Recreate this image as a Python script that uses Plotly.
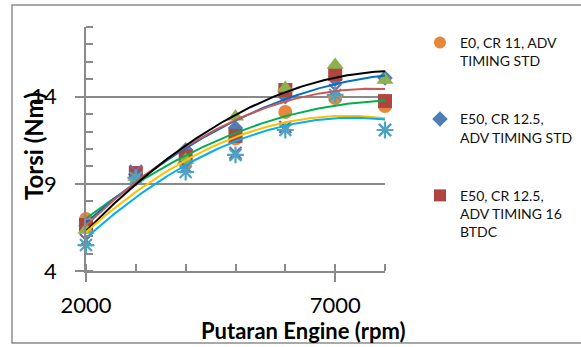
import numpy as np
import plotly.graph_objects as go

# ---- data ----
rpm = [2000, 3000, 4000, 5000, 6000, 7000, 8000]
e0_cr11_std = [6.98, 9.35, 10.25, 11.6, 13.12, 13.93, 13.47]
e50_cr125_std = [6.6, 9.55, 10.94, 12.2, 14.0, 15.0, 15.07]
e50_cr125_16btdc = [6.64, 9.62, 10.57, 11.75, 14.38, 15.3, 13.75]
series4 = [6.35, 9.4, 10.37, 12.85, 14.5, 15.82, 14.96]
series5 = [5.78, 9.74, 9.97, 10.77, 12.26, 14.38, 12.09]
series6 = [5.49, 9.34, 9.68, 10.66, 12.09, 14.1, 12.09]

names = ["E0, CR 11, ADV<br>TIMING STD",
         "E50, CR 12.5,<br>ADV TIMING STD",
         "E50, CR 12.5,<br>ADV TIMING 16<br>BTDC",
         "Series4", "Series5", "Series6"]
values = [e0_cr11_std, e50_cr125_std, e50_cr125_16btdc, series4, series5, series6]
marker_colors = ["#E8873A", "#4F7DB8", "#AE4541", "#8EB04D", "#8064A2", "#4BA5C2"]
symbols = ["circle", "diamond", "square", "triangle-up", "x-thin-open", "asterisk-open"]
sizes = [14, 12, 14, 15, 12, 14]
trend_colors = ["#00B050", "#0070C0", "#C9585A", "#000000", "#FFC000", "#00B0F0"]

fig = go.Figure()

xs = np.linspace(rpm[0], rpm[-1], 120)

# markers
for i, (nm, v) in enumerate(zip(names, values)):
    mk = dict(color=marker_colors[i], symbol=symbols[i], size=sizes[i])
    if symbols[i].endswith("open"):
        mk["line"] = dict(color=marker_colors[i], width=2.2)
    fig.add_trace(go.Scatter(
        x=rpm, y=v, mode="markers", name=nm, marker=mk,
        showlegend=i < 3, legendgroup=f"g{i}", cliponaxis=False))

# polynomial (order 2) trendlines, fitted to the data
for i, v in enumerate(values):
    c = np.polyfit(rpm, v, 2)
    fig.add_trace(go.Scatter(
        x=xs, y=np.polyval(c, xs), mode="lines", showlegend=False,
        line=dict(color=trend_colors[i], width=2), hoverinfo="skip",
        cliponaxis=False))

axis_gray = "#8A8A8A"
fig.update_layout(
    width=581, height=347,
    margin=dict(l=86, r=196, t=27, b=76, autoexpand=False),
    paper_bgcolor="white", plot_bgcolor="white",
    font=dict(family="Lato", color="#000000"),
    showlegend=True,
    legend=dict(x=1.117, y=1.0, xanchor="left", yanchor="top",
                font=dict(family="Lato", size=14, color="#111"),
                valign="top", tracegroupgap=37, bgcolor="rgba(0,0,0,0)",
                maxheight=340, itemsizing="constant"),
    xaxis=dict(range=[2000, 8000], tick0=2000, dtick=5000, automargin=False,
               showgrid=False, zeroline=False,
               showline=True, linecolor=axis_gray, linewidth=1.5,
               ticks="outside", ticklen=9, tickcolor=axis_gray, tickwidth=1.5,
               tickfont=dict(family="Lato", size=22, color="#000"),
               ticklabelstandoff=5,
               minor=dict(ticks="inside", dtick=1000, tick0=2000, ticklen=7,
                          tickcolor=axis_gray, tickwidth=1.5, showgrid=False)),
    yaxis=dict(range=[4, 18], tick0=4, dtick=5, automargin=False,
               showgrid=True, gridcolor=axis_gray, gridwidth=1.5,
               zeroline=False,
               showline=True, linecolor=axis_gray, linewidth=1.5,
               ticks="outside", ticklen=9, tickcolor=axis_gray, tickwidth=1.5,
               tickfont=dict(family="Lato", size=22, color="#000"),
               ticklabelstandoff=14,
               minor=dict(ticks="inside", dtick=1, tick0=4, ticklen=7,
                          tickcolor=axis_gray, tickwidth=1.5, showgrid=False)),
    shapes=[dict(type="rect", xref="paper", yref="paper",
                 x0=-0.2475, x1=1.70, y0=-0.295, y1=1.09,
                 line=dict(color="#8C8C8C", width=1.5), layer="below")],
    annotations=[
        dict(text="<b>Putaran Engine (rpm)</b>", xref="paper", yref="paper",
             x=(303 - 86) / 299, y=(271 - 330) / 244, showarrow=False,
             xanchor="center", yanchor="middle",
             font=dict(family="Lato", size=22, color="#000")),
        dict(text="<b>Torsi (Nm)</b>", xref="paper", yref="paper",
             x=(33 - 86) / 299, y=(271 - 146) / 244, showarrow=False,
             textangle=-90, xanchor="center", yanchor="middle",
             font=dict(family="Lato", size=24, color="#000")),
    ],
)

fig.write_html("out.html", post_script="document.body.style.margin='0';",
               config={"displayModeBar": False})
